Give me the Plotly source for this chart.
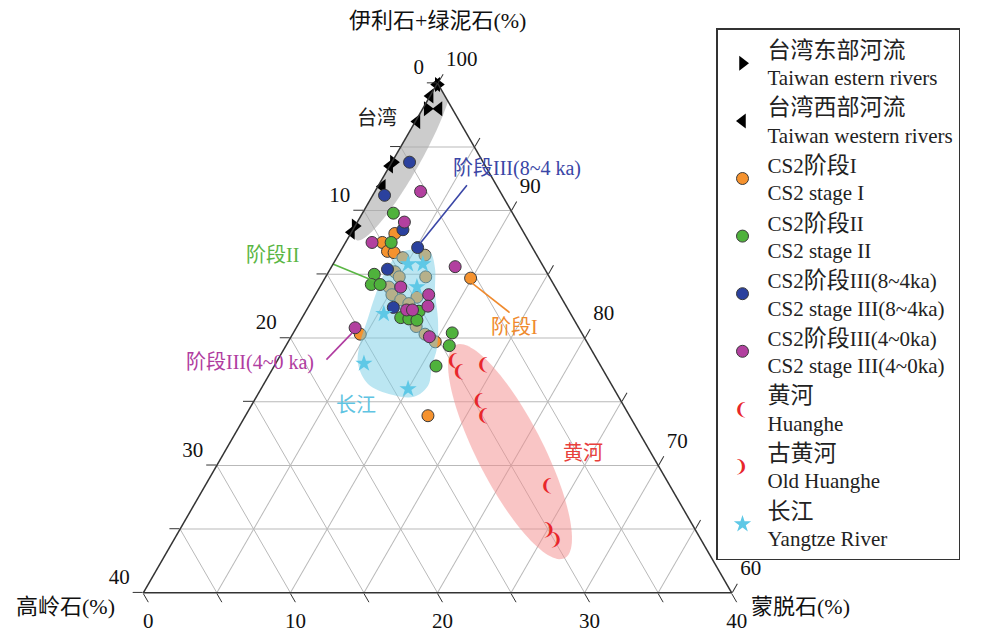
import numpy as np
import plotly.graph_objects as go

FONT = "Liberation Serif, Times New Roman, Noto Sans CJK SC, serif"

# ---------------- data: illite+chlorite / kaolinite / smectite (%) ----------------
tw_east_illite = [99.9, 98.0, 93.8, 88.8]
tw_east_kaol = [0.0, 1.7, 6.1, 11.2]
tw_east_smec = [0.1, 0.3, 0.1, 0.0]

tw_west_illite = [99.9, 99.0, 98.0, 97.0, 93.5, 91.9, 88.3]
tw_west_kaol = [0.1, 1.0, 0.9, 2.9, 6.5, 7.8, 11.7]
tw_west_smec = [0.0, 0.0, 1.1, 0.1, 0.0, 0.3, 0.0]

s1_illite = [88.2, 87.5, 86.8, 86.7, 86.3, 86.5, 85.2, 84.8, 84.8, 84.0, 83.4, 83.0, 83.2, 82.7, 80.9, 80.3, 79.7, 84.7, 80.3, 73.9]
s1_kaol = [8.8, 10.0, 10.0, 9.6, 9.2, 7.6, 10.3, 10.2, 8.4, 11.3, 11.4, 11.0, 9.8, 10.6, 11.0, 10.7, 10.3, 5.4, 15.1, 13.7]
s1_smec = [3.0, 2.5, 3.2, 3.7, 4.5, 5.9, 4.5, 5.0, 6.8, 4.7, 5.2, 6.0, 7.0, 6.7, 8.1, 9.0, 10.0, 9.9, 4.6, 12.4]

s2_illite = [89.8, 87.5, 85.0, 84.2, 84.2, 82.1, 81.6, 81.5, 81.4, 80.4, 79.4, 77.8]
s2_kaol = [8.1, 9.4, 11.8, 12.4, 11.8, 10.2, 11.7, 11.2, 10.7, 8.8, 9.5, 11.2]
s2_smec = [2.1, 3.1, 3.2, 3.4, 4.0, 7.7, 6.7, 7.3, 7.9, 10.8, 11.1, 11.0]

s3a_illite = [93.8, 91.2, 88.5, 87.1, 85.4, 82.4]
s3a_kaol = [5.0, 8.0, 8.1, 7.8, 10.7, 11.8]
s3a_smec = [1.2, 0.8, 3.4, 5.1, 3.9, 5.8]

s3b_illite = [91.5, 89.1, 87.5, 85.6, 84.0, 83.4, 82.5, 82.2, 82.2, 80.8, 80.1]
s3b_kaol = [5.4, 7.7, 10.7, 6.0, 10.5, 8.9, 9.4, 11.0, 10.6, 15.2, 10.5]
s3b_smec = [3.1, 3.2, 1.8, 8.4, 5.5, 7.7, 8.1, 6.8, 7.2, 4.0, 9.4]

hh_illite = [78.1, 77.3, 77.8, 75.0, 73.8, 68.3]
hh_kaol = [9.9, 9.9, 8.0, 9.7, 10.0, 8.4]
hh_smec = [12.0, 12.8, 14.2, 15.3, 16.2, 23.3]

ohh_illite = [64.9, 64.1]
ohh_kaol = [10.0, 9.9]
ohh_smec = [25.1, 26.0]

yz_illite = [85.8, 85.8, 84.0, 81.9, 78.0, 76.0]
yz_kaol = [9.1, 8.1, 9.4, 12.7, 16.0, 14.0]
yz_smec = [5.1, 6.1, 6.6, 5.4, 6.0, 10.0]

# Yangtze envelope outline
yz_env_illite = [86.66, 86.97, 86.74, 85.48, 83.60, 81.41, 79.21, 77.81, 76.25, 75.38, 75.54, 76.39, 77.97, 79.61, 81.57, 83.28, 85.16, 86.66]
yz_env_kaol = [9.22, 7.84, 7.14, 7.43, 8.37, 9.26, 10.43, 11.47, 12.52, 13.91, 15.32, 16.53, 16.42, 15.46, 13.94, 12.61, 10.99, 9.22]
yz_env_smec = [4.12, 5.19, 6.12, 7.09, 8.03, 9.33, 10.36, 10.72, 11.23, 10.71, 9.14, 7.08, 5.61, 4.93, 4.49, 4.11, 3.85, 4.12]

# ellipse envelopes: centre and two semi-axis vectors (illite, kaolinite, smectite)
taiwan_env = dict(center=(94.17, 5.26, 0.57), u=(-6.48, 6.41, 0.07), v=(-0.67, -0.70, 1.37))
huanghe_env = dict(center=(71.08, 9.53, 19.39), u=(-8.36, 0.47, 7.89), v=(1.17, -2.58, 1.41))

# tick labels (a axis on the left edge reads kaolinite, b on the bottom reads smectite,
# c on the right edge reads illite+chlorite)
a_tickvals = [100, 95, 90, 85, 80, 75, 70, 65, 60]
a_ticktext = ["0", "", "10", "", "20", "", "30", "", "40"]
b_tickvals = [40, 35, 30, 25, 20, 15, 10, 5, 0]
b_ticktext = ["0", "", "10", "", "20", "", "30", "", "40"]
c_tickvals = [0, 5, 10, 15, 20, 25, 30, 35, 40]
c_ticktext = ["100", "", "90", "", "80", "", "70", "", "60"]

# in-plot labels (positions in page pixels of the reference)
lab_text = ["台湾", "阶段III(8~4 ka)", "阶段II", "阶段I", "阶段III(4~0 ka)", "长江", "黄河"]
lab_color = ["#222222", "#3a46a6", "#5ab644", "#ef8a2e", "#b03ca0", "#5fc4e2", "#e8403c"]
lab_px = [(377, 118), (517, 168), (272, 255), (514, 327), (250, 362), (356, 405), (583, 453)]

# leader lines (start, end) in ternary units
lead_color = ["#3a46a6", "#5ab644", "#ef8a2e", "#b03ca0"]
lead_illite = [(92.0, 87.4), (86.3, 84.5), (84.3, 82.0), (78.3, 80.4)]
lead_kaol = [(2.0, 7.5), (15.0, 12.1), (5.5, 4.1), (18.4, 15.6)]
lead_smec = [(6.0, 5.1), (-1.3, 3.4), (10.2, 13.9), (3.3, 4.0)]

# axis titles (page pixels)
titles = [("伊利石+绿泥石(%)", (437, 20)), ("高岭石(%)", (65, 606)), ("蒙脱石(%)", (800, 606))]

W, H = 977, 624      # page has an 8px body margin -> fills the 985x640 window
OFF = 8


def P(px, py):
    return (px - OFF) / W, 1 - (py - OFF) / H


def ellipse(center, u, v, n=120):
    t = np.linspace(0, 2 * np.pi, n)
    pts = np.array([np.array(center) + np.array(u) * np.cos(tt) + np.array(v) * np.sin(tt) for tt in t])
    return pts[:, 0], pts[:, 1], pts[:, 2]


OUT = "#3a3a3a"
RED = "#e8262b"
CRES_FONT = dict(family="DejaVu Sans", size=17, color=RED)
fig = go.Figure()

ea, eb, ec = ellipse(**taiwan_env)
fig.add_trace(go.Scatterternary(a=ea, b=eb, c=ec, mode="lines", fill="toself",
                                fillcolor="rgba(170,170,170,0.6)", line=dict(width=0),
                                showlegend=False, hoverinfo="skip", cliponaxis=False))
ea, eb, ec = ellipse(**huanghe_env)
fig.add_trace(go.Scatterternary(a=ea, b=eb, c=ec, mode="lines", fill="toself",
                                fillcolor="rgba(244,140,140,0.5)", line=dict(width=0),
                                showlegend=False, hoverinfo="skip", cliponaxis=False))

CJ = "<span style='font-size:23px'>%s</span>"
fig.add_trace(go.Scatterternary(a=tw_east_illite, b=tw_east_kaol, c=tw_east_smec, mode="markers",
                                name=CJ % "台湾东部河流" + "<br>Taiwan estern rivers",
                                marker=dict(symbol="triangle-right", size=13, color="black"),
                                legendrank=1, cliponaxis=False))
fig.add_trace(go.Scatterternary(a=tw_west_illite, b=tw_west_kaol, c=tw_west_smec, mode="markers",
                                name=CJ % "台湾西部河流" + "<br>Taiwan western rivers",
                                marker=dict(symbol="triangle-left", size=13, color="black"),
                                legendrank=2, cliponaxis=False))
fig.add_trace(go.Scatterternary(a=s1_illite, b=s1_kaol, c=s1_smec, mode="markers",
                                name="CS2" + CJ % "阶段" + "I<br>CS2 stage I",
                                marker=dict(symbol="circle", size=12, color="#f5922e", line=dict(color=OUT, width=1)),
                                legendrank=3))
fig.add_trace(go.Scatterternary(a=yz_env_illite, b=yz_env_kaol, c=yz_env_smec, mode="lines", fill="toself",
                                fillcolor="rgba(120,205,230,0.5)", line=dict(width=0, shape="spline", smoothing=1),
                                showlegend=False, hoverinfo="skip"))
fig.add_trace(go.Scatterternary(a=s2_illite, b=s2_kaol, c=s2_smec, mode="markers",
                                name="CS2" + CJ % "阶段" + "II<br>CS2 stage II",
                                marker=dict(symbol="circle", size=12, color="#4fb23c", line=dict(color=OUT, width=1)),
                                legendrank=4))
fig.add_trace(go.Scatterternary(a=s3a_illite, b=s3a_kaol, c=s3a_smec, mode="markers",
                                name="CS2" + CJ % "阶段" + "III(8~4ka)<br>CS2 stage III(8~4ka)",
                                marker=dict(symbol="circle", size=12, color="#2b419e", line=dict(color=OUT, width=1)),
                                legendrank=5))
fig.add_trace(go.Scatterternary(a=s3b_illite, b=s3b_kaol, c=s3b_smec, mode="markers",
                                name="CS2" + CJ % "阶段" + "III(4~0ka)<br>CS2 stage III(4~0ka)",
                                marker=dict(symbol="circle", size=12, color="#b2409f", line=dict(color=OUT, width=1)),
                                legendrank=6))
fig.add_trace(go.Scatterternary(a=yz_illite, b=yz_kaol, c=yz_smec, mode="markers",
                                name=CJ % "长江" + "<br>Yangtze River",
                                marker=dict(symbol="star", size=13, color="#5ec8e6", line=dict(width=0)),
                                legendrank=9))
# crescent symbols drawn as heavy parenthesis ornaments
fig.add_trace(go.Scatterternary(a=hh_illite, b=hh_kaol, c=hh_smec, mode="text",
                                text=["❨"] * len(hh_illite), textfont=CRES_FONT,
                                showlegend=False, hoverinfo="skip"))
fig.add_trace(go.Scatterternary(a=ohh_illite, b=ohh_kaol, c=ohh_smec, mode="text",
                                text=["❩"] * len(ohh_illite), textfont=CRES_FONT,
                                showlegend=False, hoverinfo="skip"))
fig.add_trace(go.Scatterternary(a=[None], b=[None], c=[None], mode="markers",
                                name=CJ % "黄河" + "<br>Huanghe",
                                marker=dict(size=11, color="rgba(0,0,0,0)"), legendrank=7))
fig.add_trace(go.Scatterternary(a=[None], b=[None], c=[None], mode="markers",
                                name=CJ % "古黄河" + "<br>Old Huanghe",
                                marker=dict(size=11, color="rgba(0,0,0,0)"), legendrank=8))

for la, lb, lc, col in zip(lead_illite, lead_kaol, lead_smec, lead_color):
    fig.add_trace(go.Scatterternary(a=list(la), b=list(lb), c=list(lc), mode="lines",
                                    line=dict(color=col, width=1.6), showlegend=False,
                                    hoverinfo="skip", cliponaxis=False))


def axis(vals, texts, lift=True, ticklen=10):
    txt = [(t + "<br> ") if (t and lift) else t for t in texts]
    return dict(tickmode="array", tickvals=vals, ticktext=txt, ticks="outside", ticklen=ticklen,
                tickwidth=1.2, tickcolor="#333", tickfont=dict(family=FONT, size=21, color="#111"),
                showline=True, linecolor="#333", linewidth=1.5, showgrid=True,
                gridcolor="#b9b9b9", gridwidth=1, title=dict(text=""))


annotations = []
for t, (px, py) in titles:
    x, y = P(px, py)
    annotations.append(dict(text=t, x=x, y=y, xref="paper", yref="paper", xanchor="center",
                            yanchor="middle", showarrow=False, font=dict(family=FONT, size=22, color="#111")))
for t, col, (px, py) in zip(lab_text, lab_color, lab_px):
    x, y = P(px, py)
    annotations.append(dict(text=t, x=x, y=y, xref="paper", yref="paper", xanchor="center",
                            yanchor="middle", showarrow=False, font=dict(family=FONT, size=20, color=col)))

LEG_LEFT, LEG_TOP = 716, 28
for glyph, cy in (("❨", 409), ("❩", 466)):
    x, y = P(LEG_LEFT + 25, cy)
    annotations.append(dict(text=glyph, x=x, y=y, xref="paper", yref="paper", xanchor="center",
                            yanchor="middle", showarrow=False, font=CRES_FONT))

lx, ly = P(LEG_LEFT, LEG_TOP)
fig.update_layout(
    width=W, height=H,
    margin=dict(l=0, r=0, t=0, b=0, autoexpand=False),
    paper_bgcolor="white",
    ternary=dict(sum=100, bgcolor="white",
                 domain=dict(x=[(143.3 - OFF) / W, (731.7 - OFF) / W], y=[0.05115, 0.89115]),
                 aaxis=dict(min=60, **axis(a_tickvals, a_ticktext)),
                 baxis=dict(min=0, **axis(b_tickvals, b_ticktext, lift=False, ticklen=10)),
                 caxis=dict(min=0, **axis(c_tickvals, c_ticktext))),
    legend=dict(x=lx, y=ly, xanchor="left", yanchor="top", bgcolor="white",
                bordercolor="#333", borderwidth=1.5, itemwidth=40, tracegroupgap=0,
                font=dict(family=FONT, size=21, color="#222")),
    showlegend=True,
    annotations=annotations,
)

fig.write_html("out.html")
